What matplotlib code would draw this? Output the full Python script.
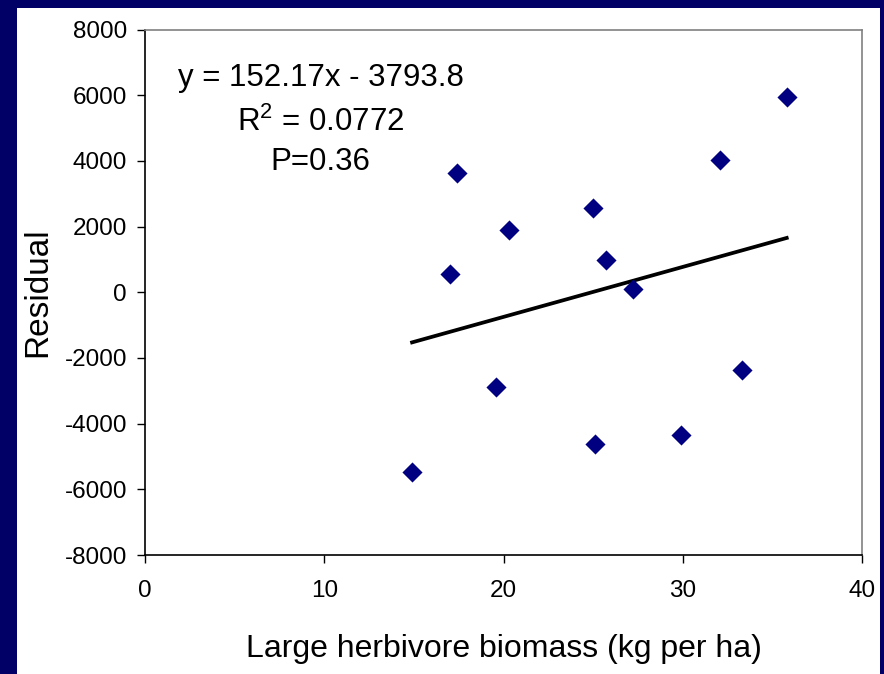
import matplotlib
matplotlib.use('Agg')
import matplotlib.pyplot as plt
from matplotlib.patches import Rectangle
import numpy as np

plt.rcParams['font.family'] = ['Liberation Sans', 'DejaVu Sans']
plt.rcParams['mathtext.fontset'] = 'custom'
plt.rcParams['mathtext.rm'] = 'Liberation Sans'
plt.rcParams['axes.unicode_minus'] = False

# herbivore biomass (kg per ha) vs residual
biomass = [14.9, 17.0, 17.4, 19.6, 20.3, 25.0, 25.1, 25.7, 27.2, 29.9, 32.1, 33.3, 35.8]
residual = [-5480, 570, 3620, -2890, 1910, 2560, -4620, 970, 100, -4360, 4020, -2360, 5950]

slope = 152.17
intercept = -3793.8
eq_text = 'y = 152.17x - 3793.8'
r2_text = 'R$^2$ = 0.0772'
p_text = 'P=0.36'

navy = '#000066'

fig = plt.figure(figsize=(8.84, 6.74), dpi=100)
fig.patch.set_facecolor(navy)
# white slide panel behind the chart
panel = Rectangle((17 / 884, 0), 863 / 884, 666 / 674, transform=fig.transFigure,
                  facecolor='white', edgecolor='none', zorder=-10)
fig.add_artist(panel)

ax = fig.add_axes([145 / 884, 119 / 674, 717 / 884, 525.5 / 674])
ax.set_facecolor('white')

ax.scatter(biomass, residual, marker='D', s=105, color='#000080', zorder=3, linewidths=0)

# trendline over the data range
xfit = np.array([min(biomass), max(biomass)])
ax.plot(xfit, slope * xfit + intercept, color='black', lw=2.7, zorder=2)

ax.set_xlim(0, 40)
ax.set_ylim(-8000, 8000)
ax.set_xticks([0, 10, 20, 30, 40])
ax.set_yticks(range(-8000, 8001, 2000))
ax.tick_params(labelsize=17.5, length=6, width=1, color='black')
ax.tick_params(axis='x', pad=12)
ax.tick_params(axis='y', pad=7)

for s in ['left', 'bottom']:
    ax.spines[s].set_color('black')
for s in ['top', 'right']:
    ax.spines[s].set_color('#808080')
for s in ax.spines.values():
    s.set_linewidth(1.2)

ax.set_xlabel('Large herbivore biomass (kg per ha)', fontsize=23, labelpad=23)
ax.set_ylabel('Residual', fontsize=24, labelpad=8)

ax.text(9.8, 6290, eq_text, ha='center', va='baseline', fontsize=22.5)
ax.text(9.8, 4909, r2_text, ha='center', va='baseline', fontsize=22.5)
ax.text(9.8, 3722, p_text, ha='center', va='baseline', fontsize=22.5)

fig.savefig('out.png', dpi=100, facecolor=fig.get_facecolor())
